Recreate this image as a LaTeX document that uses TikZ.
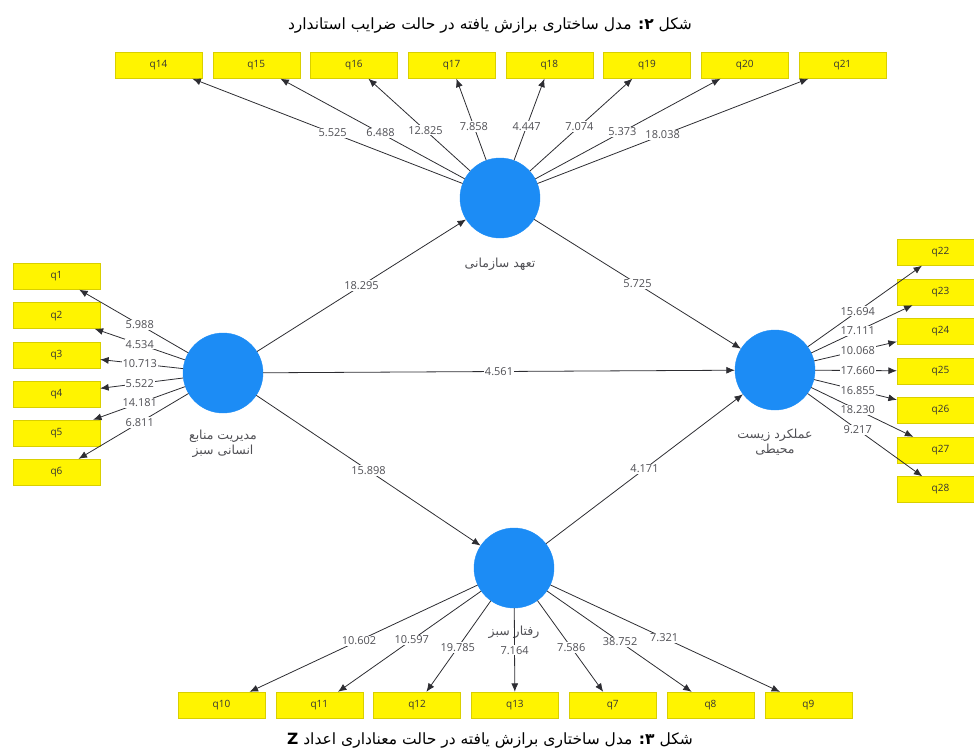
\documentclass[tikz,border=0pt]{standalone}
\usepackage{fontspec}
\setmainfont{Open Sans}
\newfontfamily\fafont[Script=Arabic]{DejaVu Sans}
\TeXXeTstate=1
\usetikzlibrary{arrows.meta,positioning,calc}
\definecolor{plsblue}{RGB}{28,140,245}
\definecolor{plsyellow}{RGB}{255,244,0}
\definecolor{edgeink}{RGB}{45,45,50}
\definecolor{numgray}{RGB}{80,80,85}
\tikzset{
  >={Latex[length=8.5pt,width=7pt]},
  ind/.style={fill=plsyellow,draw=plsyellow!85!black,line width=0.3pt,
    minimum width=87pt,minimum height=26pt,inner sep=0pt,
    font=\fontsize{10}{12}\selectfont,text=black!80},
  lv/.style={circle,fill=plsblue,draw=plsblue,minimum size=80pt,inner sep=0pt},
  link/.style={->,draw=edgeink,line width=0.8pt},
  lbl/.style={fill=white,inner sep=1pt,text=numgray,font=\fontsize{11}{12}\selectfont},
  lvlbl/.style={text=numgray,font=\fafont\fontsize{12.5}{15}\selectfont,align=center},
  figcap/.style={text=black,font=\fafont\fontsize{15.5}{18}\selectfont},
}

\begin{document}
\begin{tikzpicture}[x=1pt,y=-1pt]
  \useasboundingbox (0,0) rectangle (974,755);
  \clip (0,0) rectangle (974,755);

  % captions
  \node[figcap] (capa) at (490,26) {\beginR شکل {\bfseries ۲:} مدل ساختاری برازش یافته در حالت ضرایب استاندارد\endR};
  \node[figcap] (capb) at (490,740) {\beginR شکل {\bfseries ۳:} مدل ساختاری برازش یافته در حالت معناداری اعداد {\bfseries Z}\endR};

  % latent variables
  \node[lv] (hrm) at (223,373) {};
  \node[lv] (comm) at (500,198) {};
  \node[lv] (env) at (775,370) {};
  \node[lv] (beh) at (514,568) {};
  \node[lvlbl,below=13pt of hrm] (hrmlbl) {\beginR مدیریت منابع\endR\\\beginR انسانی سبز\endR};
  \node[lvlbl,below=16pt of comm] (commlbl) {\beginR تعهد سازمانی\endR};
  \node[lvlbl,below=15pt of env] (envlbl) {\beginR عملکرد زیست\endR\\\beginR محیطی\endR};
  \node[lvlbl,below=14pt of beh] (behlbl) {\beginR رفتار سبز\endR};

  % indicators
  \foreach \q [count=\i from 0] in {14,...,21}
    \node[ind] (q\q) at (158.5+97.7*\i,65.5) {q\q};
  \foreach \q [count=\i from 0] in {1,...,6}
    \node[ind] (q\q) at (56.5,276.5+39.1*\i) {q\q};
  \foreach \q [count=\i from 0] in {22,...,28}
    \node[ind] (q\q) at (940.5,252.5+39.5*\i) {q\q};
  \foreach \q [count=\i from 0] in {10,11,12,13,7,8,9}
    \node[ind] (q\q) at (221.5+97.8*\i,705) {q\q};

  % outer loadings
  \foreach \q/\v/\t in {14/5.525/0.49,15/6.488/0.49,16/12.825/0.51,17/7.858/0.54,
      18/4.447/0.54,19/7.074/0.54,20/5.373/0.5,21/18.038/0.475} {
    \draw[link] (comm) -- (q\q);
    \node[lbl] (l\q) at ($(comm)!\t!(q\q)$) {\v};
  }
  \foreach \q/\v in {1/5.988,2/4.534,3/10.713,4/5.522,5/14.181,6/6.811} {
    \draw[link] (hrm) -- (q\q);
    \node[lbl] (l\q) at ($(hrm)!0.5!(q\q)$) {\v};
  }
  \foreach \q/\v in {22/15.694,23/17.111,24/10.068,25/17.660,26/16.855,27/18.230,28/9.217} {
    \draw[link] (env) -- (q\q);
    \node[lbl] (l\q) at ($(env)!0.5!(q\q)$) {\v};
  }
  \foreach \q/\v/\t in {10/10.602/0.53,11/10.597/0.525,12/19.785/0.58,13/7.164/0.6,
      7/7.586/0.58,8/38.752/0.54,9/7.321/0.51} {
    \draw[link] (beh) -- (q\q);
    \node[lbl] (l\q) at ($(beh)!\t!(q\q)$) {\v};
  }

  % inner model
  \foreach \a/\b/\v in {hrm/comm/18.295,comm/env/5.725,hrm/env/4.561,hrm/beh/15.898,beh/env/4.171} {
    \draw[link] (\a) -- (\b);
    \node[lbl] (p\a\b) at ($(\a)!0.5!(\b)$) {\v};
  }
\end{tikzpicture}
\end{document}
